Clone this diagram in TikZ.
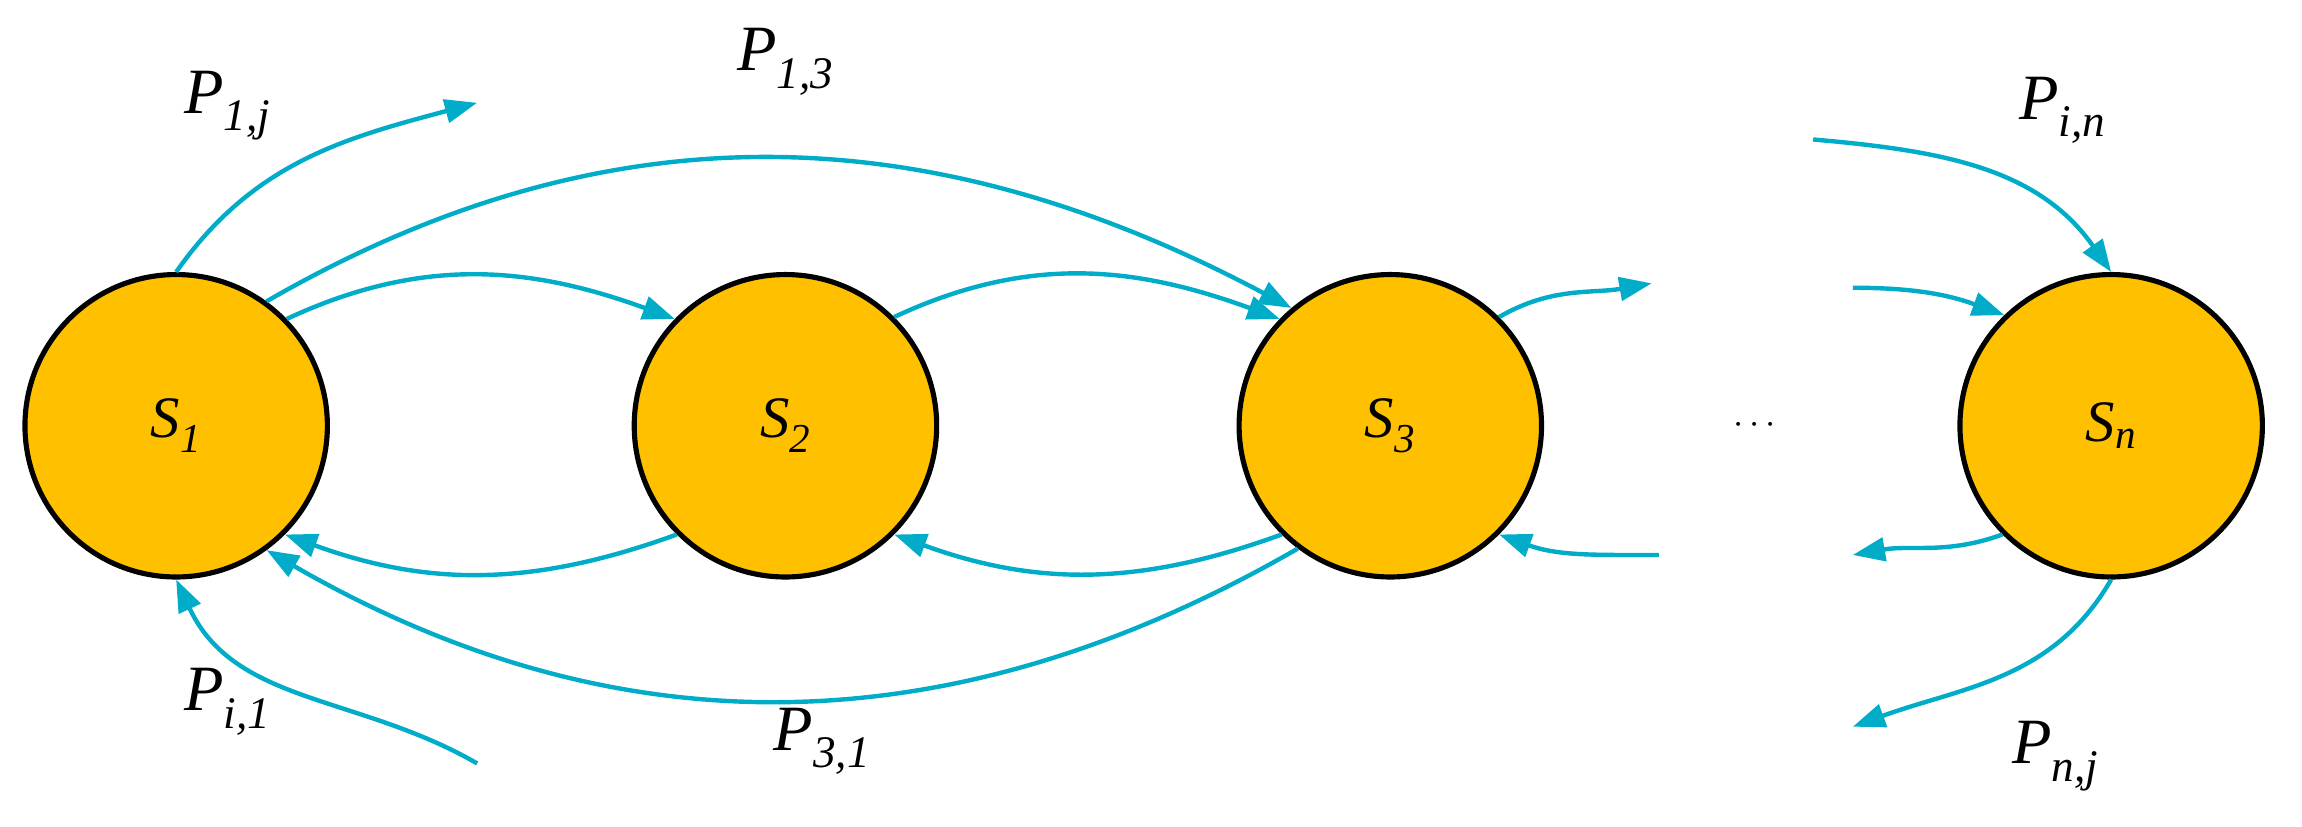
\documentclass[tikz,border=0pt]{standalone}
\usepackage{fontspec}
\setmainfont{Liberation Serif}
\usetikzlibrary{arrows.meta}
\begin{document}
\begin{tikzpicture}[x=1pt,y=1pt,
  st/.style={circle,draw=black,line width=3.5pt,fill={rgb,255:red,255;green,192;blue,0},minimum size=206pt,inner sep=0pt,font=\fontsize{40}{44}\selectfont\itshape},
  ar/.style={draw={rgb,255:red,0;green,172;blue,200},line width=3pt,-{Triangle[length=22pt,width=16pt]}},
  lb/.style={font=\fontsize{44}{50}\selectfont\itshape}]
\useasboundingbox (0,0) rectangle (1568,-563);
\node[st] (s1) at (120,-290) {S\textsubscript{1}};
\node[st] (s2) at (535,-290) {S\textsubscript{2}};
\node[st] (s3) at (947,-290) {S\textsubscript{3}};
\node[st] (sn) at (1438,-290) {S\textsubscript{n}};
\node[font=\fontsize{44}{50}\selectfont] (dots) at (1195,-290) {$\cdots$};
\coordinate (a1) at (325,-70);
\coordinate (a2) at (1125,-193);
\coordinate (a3) at (1262,-196);
\coordinate (a4) at (1235,-95);
\coordinate (a5) at (1262,-378);
\coordinate (a6) at (1262,-495);
\coordinate (a7) at (1130,-378);
\coordinate (a8) at (325,-520);
\draw[ar] (s1.90) to[out=55,in=195] (a1);
\draw[ar] (s1.54) to[out=30,in=152] (s3.130);
\draw[ar] (s1.44) to[out=25,in=160] (s2.136);
\draw[ar] (s2.45) to[out=25,in=160] (s3.136);
\draw[ar] (s3.45) to[out=30,in=190] (a2);
\draw[ar] (a3) to[out=0,in=160] (sn.134);
\draw[ar] (a4) to[out=-5,in=125] (sn.90);
\draw[ar] (sn.-135) to[out=200,in=10] (a5);
\draw[ar] (sn.270) to[out=240,in=20] (a6);
\draw[ar] (a7) to[out=180,in=-20] (s3.-45);
\draw[ar] (s3.-135) to[out=200,in=-20] (s2.-45);
\draw[ar] (s2.-135) to[out=200,in=-20] (s1.-45);
\draw[ar] (s3.-127) to[out=210,in=-30] (s1.-54);
\draw[ar] (a8) to[out=150,in=-65] (s1.-90);
\node[lb] (l1) at (155,-72) {P\textsubscript{1,j}};
\node[lb] (l2) at (535,-42) {P\textsubscript{1,3}};
\node[lb] (l3) at (1405,-75) {P\textsubscript{i,n}};
\node[lb] (l4) at (155,-478) {P\textsubscript{i,1}};
\node[lb] (l5) at (560,-505) {P\textsubscript{3,1}};
\node[lb] (l6) at (1400,-515) {P\textsubscript{n,j}};
\end{tikzpicture}
\end{document}
